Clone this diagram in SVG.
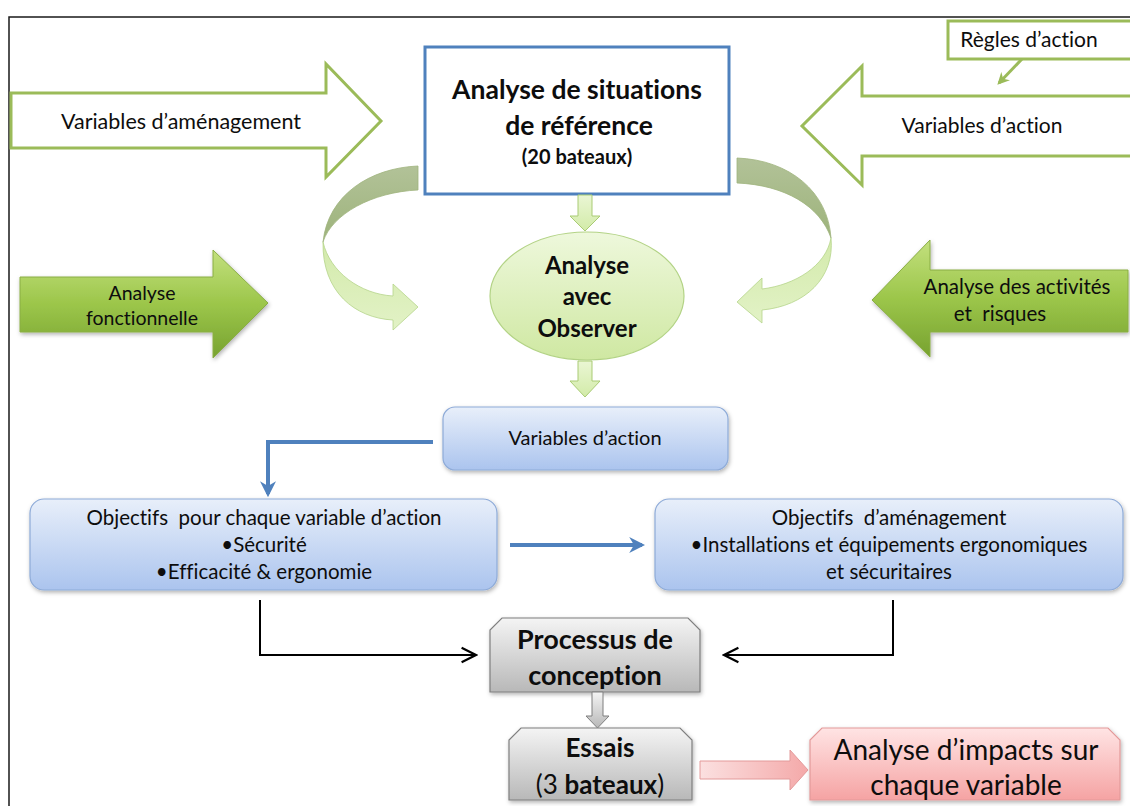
<svg xmlns="http://www.w3.org/2000/svg" width="1130" height="806" viewBox="0 0 1130 806">
<defs>
  <linearGradient id="gGreen" x1="0" y1="0" x2="0" y2="1">
    <stop offset="0" stop-color="#C3E07E"/>
    <stop offset="0.5" stop-color="#9CC64A"/>
    <stop offset="1" stop-color="#77A230"/>
  </linearGradient>
  <linearGradient id="gEllipse" x1="0" y1="0" x2="0" y2="1">
    <stop offset="0" stop-color="#EEF8DC"/>
    <stop offset="1" stop-color="#CFE8A2"/>
  </linearGradient>
  <linearGradient id="gSmall" x1="0" y1="0" x2="0" y2="1">
    <stop offset="0" stop-color="#EAF6D4"/>
    <stop offset="1" stop-color="#D2EBA8"/>
  </linearGradient>
  <linearGradient id="gBlue" x1="0" y1="0" x2="0" y2="1">
    <stop offset="0" stop-color="#E8EFFA"/>
    <stop offset="1" stop-color="#ABC4EE"/>
  </linearGradient>
  <linearGradient id="gGray" x1="0" y1="0" x2="0" y2="1">
    <stop offset="0" stop-color="#F4F4F4"/>
    <stop offset="1" stop-color="#B8B8B8"/>
  </linearGradient>
  <linearGradient id="gPink" x1="0" y1="0" x2="0" y2="1">
    <stop offset="0" stop-color="#FFE4E4"/>
    <stop offset="1" stop-color="#F5A3A3"/>
  </linearGradient>
  <linearGradient id="gPinkArrow" x1="0" y1="0" x2="1" y2="0">
    <stop offset="0" stop-color="#FBE0E0"/>
    <stop offset="1" stop-color="#F4A9A9"/>
  </linearGradient>
  <linearGradient id="gCurveTop" x1="0" y1="0" x2="0" y2="1">
    <stop offset="0" stop-color="#B2C298"/>
    <stop offset="1" stop-color="#9DB37B"/>
  </linearGradient>
  <linearGradient id="gCurveBot" x1="0" y1="0" x2="0" y2="1">
    <stop offset="0" stop-color="#D3EAAB"/>
    <stop offset="1" stop-color="#E2F2C6"/>
  </linearGradient>
  <filter id="shadow" x="-10%" y="-10%" width="120%" height="130%">
    <feDropShadow dx="1" dy="2" stdDeviation="2" flood-color="#000" flood-opacity="0.3"/>
  </filter>
  <marker id="mBlue" viewBox="0 0 10 10" refX="8" refY="5" markerWidth="4" markerHeight="4" orient="auto" markerUnits="strokeWidth">
    <path d="M0,0 L10,5 L0,10 L3,5 Z" fill="#4F81BD"/>
  </marker>
  <marker id="mBlack" viewBox="0 0 10 10" refX="9" refY="5" markerWidth="9" markerHeight="9" orient="auto" markerUnits="strokeWidth">
    <path d="M1,1 L9,5 L1,9" fill="none" stroke="#000" stroke-width="1.2"/>
  </marker>
  <marker id="mGreen" viewBox="0 0 10 10" refX="8" refY="5" markerWidth="4" markerHeight="4" orient="auto" markerUnits="strokeWidth">
    <path d="M0,0 L10,5 L0,10 L3,5 Z" fill="#9BBB59"/>
  </marker>
</defs>
<style>
  text { font-family: Lato, "Liberation Sans", sans-serif; fill: #0d0d0d; text-anchor: middle; font-variant-ligatures: none; font-feature-settings: "liga" 0, "dlig" 0; }
  .b { font-weight: bold; }
  .hollow { fill: #fff; stroke: #9BBB59; stroke-width: 3; }
  .solid { fill: url(#gGreen); stroke: #8AAE45; stroke-width: 1; filter: url(#shadow); }
  .bluebox { fill: url(#gBlue); stroke: #8EABD8; stroke-width: 1.2; filter: url(#shadow); }
  .graybox { fill: url(#gGray); stroke: #7F7F7F; stroke-width: 1.2; filter: url(#shadow); }
  .smallarrow { fill: url(#gSmall); stroke: #A9CB74; stroke-width: 1; }
  .blueline { fill: none; stroke: #4F81BD; stroke-width: 4; marker-end: url(#mBlue); }
  .blackline { fill: none; stroke: #000; stroke-width: 2; marker-end: url(#mBlack); }
</style>

<rect x="0" y="0" width="1130" height="806" fill="#fff"/>
<path d="M9,806 V17 H1130" fill="none" stroke="#1a1a1a" stroke-width="1.5"/>

<g id="variables-amenagement">
  <polygon class="hollow" points="11,93 326,93 326,64 381,121 326,177 326,148 11,148"/>
  <text x="181" y="129" font-size="21.5">Variables d’aménagement</text>
</g>

<g id="situations-reference">
  <rect x="425" y="47" width="304" height="147" fill="#fff" stroke="#4F81BD" stroke-width="3"/>
  <text class="b" x="577" y="99" font-size="26.5">Analyse de situations</text>
  <text class="b" x="579" y="135" font-size="26.5">de référence</text>
  <text class="b" x="577" y="164" font-size="20">(20 bateaux)</text>
</g>

<g id="regles-action">
  <rect x="948" y="21" width="192" height="38" fill="#fff" stroke="#9BBB59" stroke-width="3"/>
  <text x="1029" y="47" font-size="21">Règles d’action</text>
</g>

<g id="variables-action-top">
  <polygon class="hollow" points="1135,96 862,96 862,66 802,126 862,185 862,156 1135,156"/>
  <text x="982" y="133" font-size="21">Variables d’action</text>
</g>

<g id="analyse-fonctionnelle">
  <polygon class="solid" points="20,277 213,277 213,250 268,303 213,358 213,332 20,332"/>
  <text x="142" y="300" font-size="19.5">Analyse</text>
  <text x="142" y="325" font-size="19.5">fonctionnelle</text>
</g>

<g id="analyse-activites">
  <polygon class="solid" points="1128,270 930,270 930,240 872,300 930,357 930,332 1128,332"/>
  <text x="1017" y="294" font-size="20.5">Analyse des activités</text>
  <text x="1000" y="321" font-size="20.5" xml:space="preserve">et  risques</text>
</g>

<g id="analyse-observer">
  <ellipse cx="587" cy="296" rx="97" ry="64" fill="url(#gEllipse)" stroke="#B3D386" stroke-width="1.2"/>
  <text class="b" x="587" y="274" font-size="24">Analyse</text>
  <text class="b" x="587" y="305" font-size="24">avec</text>
  <text class="b" x="587" y="337" font-size="24">Observer</text>
</g>

<g id="variables-action-box">
  <rect class="bluebox" x="443" y="407" width="285" height="63" rx="12"/>
  <text x="585" y="445" font-size="20">Variables d’action</text>
</g>

<g id="objectifs-action">
  <rect class="bluebox" x="30" y="499" width="467" height="91" rx="14"/>
  <text x="264" y="525" font-size="20.5" xml:space="preserve">Objectifs  pour chaque variable d’action</text>
  <text x="264" y="552" font-size="20.5">•Sécurité</text>
  <text x="264" y="579" font-size="20.5">•Efficacité &amp; ergonomie</text>
</g>

<g id="objectifs-amenagement">
  <rect class="bluebox" x="655" y="499" width="468" height="91" rx="14"/>
  <text x="889" y="525" font-size="20.5" xml:space="preserve">Objectifs  d’aménagement</text>
  <text x="889" y="552" font-size="20.5">•Installations et équipements ergonomiques</text>
  <text x="889" y="579" font-size="20.5">et sécuritaires</text>
</g>

<g id="processus-conception">
  <path class="graybox" d="M502,618 H688 L700,630 V692 H490 V630 Z"/>
  <text class="b" x="595" y="649" font-size="27">Processus de</text>
  <text class="b" x="595" y="685" font-size="27">conception</text>
</g>

<g id="essais">
  <path class="graybox" d="M521,728 H680 L692,740 V800 H509 V740 Z"/>
  <text class="b" x="600" y="757" font-size="26">Essais</text>
  <text x="600" y="794" font-size="26">(3 <tspan class="b">bateaux</tspan>)</text>
</g>

<g id="analyse-impacts">
  <path d="M822,728 H1108 L1120,740 V800 H810 V740 Z" fill="url(#gPink)" stroke="#E39A9A" stroke-width="1.2" filter="url(#shadow)"/>
  <text x="966" y="760" font-size="28">Analyse d’impacts sur</text>
  <text x="966" y="795" font-size="28">chaque variable</text>
</g>

<g id="connectors">
  <line x1="1022" y1="59" x2="999" y2="83" stroke="#9BBB59" stroke-width="3" marker-end="url(#mGreen)"/>
  <path d="M418,166 C370,168 328,195 323,242 C332,214 372,192 418,190 Z" fill="url(#gCurveTop)" stroke="#9FB47E" stroke-width="0.8"/>
  <path d="M323,242 C322,292 355,318 393,320 L393,330 L418,307 L393,284 L393,296 C360,294 330,272 323,242 Z" fill="url(#gCurveBot)" stroke="#B5D48A" stroke-width="0.8"/>
  <path d="M737,158 C790,160 828,192 831,238 C820,206 785,185 737,183 Z" fill="url(#gCurveTop)" stroke="#9FB47E" stroke-width="0.8"/>
  <path d="M831,238 C835,278 805,306 762,310 L762,323 L737,302 L762,278 L762,289 C795,285 826,266 831,238 Z" fill="url(#gCurveBot)" stroke="#B5D48A" stroke-width="0.8"/>
  <polygon class="smallarrow" points="578,195 592,195 592,216 600,216 585,231 570,216 578,216"/>
  <polygon class="smallarrow" points="578,361 592,361 592,381 600,381 585,397 570,381 578,381"/>
  <path class="blueline" d="M433,442 H268 V494"/>
  <path class="blueline" d="M510,545 H642"/>
  <path class="blackline" d="M260,600 V655 H476"/>
  <path class="blackline" d="M893,600 V655 H724"/>
  <polygon points="592,692 603,692 603,716 609,716 597.5,728 586,716 592,716" fill="url(#gGray)" stroke="#7F7F7F" stroke-width="1"/>
  <polygon points="700,761 790,761 790,750 808,770 790,790 790,779 700,779" fill="url(#gPinkArrow)" stroke="#E39A9A" stroke-width="1"/>
</g>
</svg>
